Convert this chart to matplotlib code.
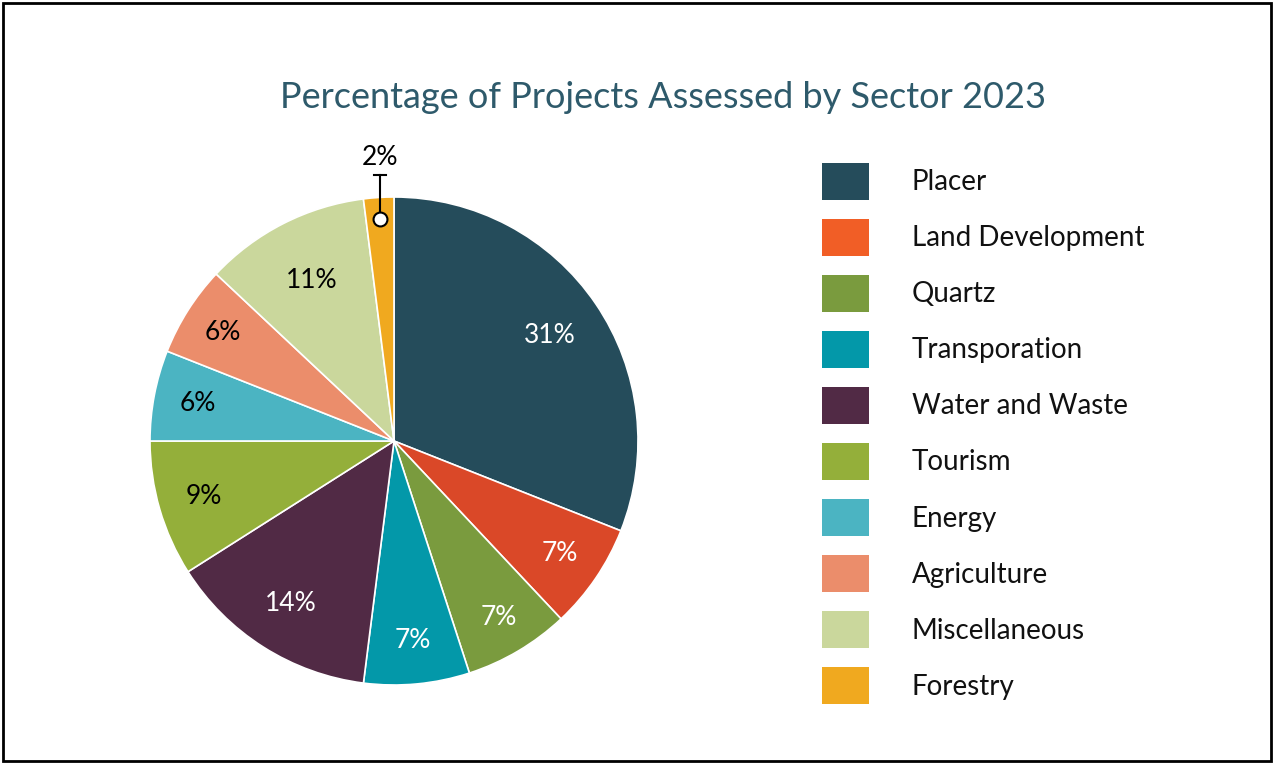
import numpy as np
from matplotlib import pyplot as plt
from matplotlib.patches import Rectangle

# project share by sector, 2023 (percent)
sectors = ["Placer", "Land Development", "Quartz", "Transporation", "Water and Waste",
           "Tourism", "Energy", "Agriculture", "Miscellaneous", "Forestry"]
shares = [31, 7, 7, 7, 14, 9, 6, 6, 11, 2]

slice_colors = ["#254C5B", "#DA4828", "#7A9B3E", "#0398A9", "#512A45",
                "#94AF3A", "#4BB4C2", "#EB8D6B", "#CAD79C", "#F0A91F"]
legend_colors = ["#254C5B", "#F15E26", "#7A9B3E", "#0398A9", "#512A45",
                 "#94AF3A", "#4BB4C2", "#EB8D6B", "#CAD79C", "#F0A91F"]
label_colors = ["white", "white", "white", "white", "white",
                "black", "black", "black", "black", "black"]
# radial position of each percentage label (fraction of radius)
label_dist = [0.77, 0.82, 0.84, 0.82, 0.79, 0.81, 0.82, 0.83, 0.74, 0.91]

plt.rcParams["font.family"] = ["Lato", "DejaVu Sans"]

W, H = 1273, 763
fig = plt.figure(figsize=(W / 100, H / 100), dpi=100)

# pie axes: centre (394, 441) px, radius 244 px
cx, cy, R = 394, 441, 244
ax = fig.add_axes([(cx - R) / W, (H - cy - R) / H, 2 * R / W, 2 * R / H])
wedges, _ = ax.pie(shares, colors=slice_colors, startangle=90, counterclock=False,
                   radius=1.0, wedgeprops=dict(edgecolor="white", linewidth=1.2))
ax.set_xlim(-1, 1)
ax.set_ylim(-1, 1)
ax.set_aspect("equal")
ax.axis("off")

for i, w in enumerate(wedges):
    mid = np.deg2rad((w.theta1 + w.theta2) / 2)
    d = label_dist[i]
    if shares[i] < 3:
        # small slice: callout above the pie
        x0, y0 = d * np.cos(mid), d * np.sin(mid)
        ytop = 1.09
        ax.plot([x0, x0], [y0, ytop], color="black", lw=1.5, clip_on=False, zorder=4)
        ax.plot([x0 - 0.025, x0 + 0.025], [ytop, ytop], color="black", lw=1.5,
                clip_on=False, zorder=4)
        ax.plot(x0, y0, "o", ms=10, mfc="white", mec="black", mew=1.5,
                clip_on=False, zorder=5)
        ax.text(x0, ytop + 0.07, f"{shares[i]}%", ha="center", va="center",
                fontsize=19, color="black")
    else:
        ax.text(d * np.cos(mid), d * np.sin(mid), f"{shares[i]}%", ha="center",
                va="center", fontsize=19, color=label_colors[i])

# overlay in pixel coordinates for title, legend and frame
ov = fig.add_axes([0, 0, 1, 1], zorder=-1)
ov.set_xlim(0, W)
ov.set_ylim(H, 0)
ov.axis("off")

ov.text(663, 97, "Percentage of Projects Assessed by Sector 2023", ha="center",
        va="center", fontsize=26, color="#2E5A6B")

for i, name in enumerate(sectors):
    yc = 181 + i * 56.1
    ov.add_patch(Rectangle((822, yc - 18.5), 47, 37, facecolor=legend_colors[i],
                           edgecolor="none"))
    ov.text(912, yc + 1, name, ha="left", va="center", fontsize=20, color="#111111")

ov.add_patch(Rectangle((2.5, 2.5), W - 5, H - 5, facecolor="none",
                       edgecolor="black", linewidth=2))

fig.savefig("out.png", dpi=100, facecolor="white")
